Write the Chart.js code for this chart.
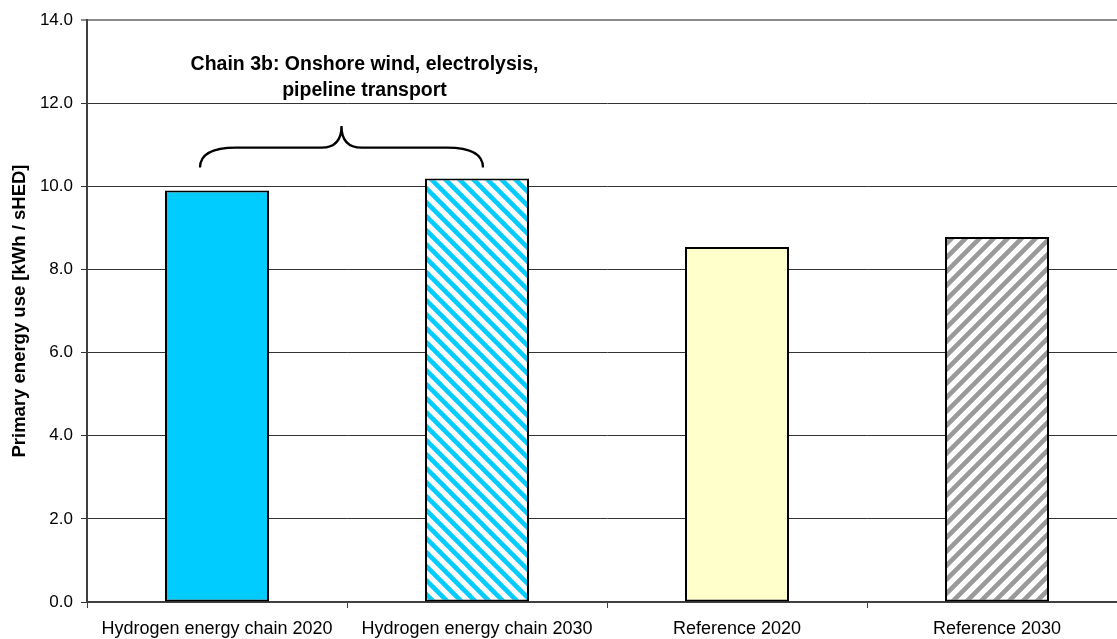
<!DOCTYPE html>
<html>
<head>
<meta charset="utf-8">
<script src="https://cdn.jsdelivr.net/npm/chart.js@4"></script>
<style>
  html, body { margin: 0; padding: 0; background: #fff; overflow: hidden; }
  #wrap { width: 1130px; height: 639px; }
</style>
</head>
<body>
<div id="wrap"><canvas id="energyChart" width="1130" height="639"></canvas></div>
<script>
// chart data
const categories = ["Hydrogen energy chain 2020", "Hydrogen energy chain 2030", "Reference 2020", "Reference 2030"];
const primaryEnergy = [9.90, 10.19, 8.54, 8.78];
const yTicks = [0, 2, 4, 6, 8, 10, 12, 14];
const bracketText = ["Chain 3b: Onshore wind, electrolysis,", "pipeline transport"];

const FONT = "'Liberation Sans', Arial, sans-serif";

// striped fills
function stripes(color, dir) {
    const s = 14;
    const c = document.createElement("canvas");
    c.width = s; c.height = s;
    const g = c.getContext("2d");
    g.fillStyle = "#fff";
    g.fillRect(0, 0, s, s);
    g.strokeStyle = color;
    g.lineWidth = 4.6;
    g.beginPath();
    for (let k = -1; k <= 2; k++) {
        if (dir === "down") {
            g.moveTo(k * s - s, -s);
            g.lineTo(k * s + 2 * s, 2 * s);
        } else {
            g.moveTo(k * s + s, -s);
            g.lineTo(k * s - 2 * s, 2 * s);
        }
    }
    g.stroke();
    return g.createPattern(c, "repeat");
}

const fills = ["#00CCFF", stripes("#00CCFF", "down"), "#FFFFCC", stripes("#9a9a9a", "up")];

// curly brace + caption above the first two bars
const bracePlugin = {
    id: "brace",
    afterDatasetsDraw(chart) {
        const ctx = chart.ctx;
        const x = chart.scales.x, y = chart.scales.y;
        const x0 = x.getPixelForValue(0), x1 = x.getPixelForValue(1);
        const left = x0 - 17, right = x1 + 6;
        const tip = left + (right - left) * 0.5;
        const yEnd = y.getPixelForValue(10.45);
        const yMid = y.getPixelForValue(10.93);
        const yTip = y.getPixelForValue(11.45);
        const r = 20;

        ctx.save();
        ctx.strokeStyle = "#000";
        ctx.lineWidth = 2.3;
        ctx.beginPath();
        ctx.moveTo(left, yEnd);
        ctx.quadraticCurveTo(left, yMid, left + r * 1.8, yMid);
        ctx.lineTo(tip - r, yMid);
        ctx.quadraticCurveTo(tip, yMid, tip, yTip);
        ctx.quadraticCurveTo(tip, yMid, tip + r, yMid);
        ctx.lineTo(right - r * 1.8, yMid);
        ctx.quadraticCurveTo(right, yMid, right, yEnd);
        ctx.stroke();

        ctx.fillStyle = "#000";
        ctx.font = "bold 19.5px " + FONT;
        ctx.textAlign = "center";
        ctx.textBaseline = "middle";
        const cx = tip + 23;
        ctx.fillText(bracketText[0], cx, y.getPixelForValue(12.93));
        ctx.fillText(bracketText[1], cx, y.getPixelForValue(12.31));
        ctx.restore();
    }
};

const ctx = document.getElementById("energyChart").getContext("2d");

new Chart(ctx, {
    type: "bar",
    data: {
        labels: categories,
        datasets: [{
            data: primaryEnergy,
            backgroundColor: fills,
            borderColor: "#000",
            borderWidth: 2,
            borderSkipped: false,
            barPercentage: 0.4,
            categoryPercentage: 1.0
        }]
    },
    options: {
        responsive: false,
        animation: false,
        layout: { padding: { top: 20, right: 3, left: 0, bottom: 0 } },
        plugins: {
            legend: { display: false },
            tooltip: { enabled: false }
        },
        scales: {
            x: {
                offset: true,
                grid: {
                    offset: true,
                    drawOnChartArea: false,
                    drawTicks: true,
                    tickLength: 6,
                    color: "#404040"
                },
                border: { color: "#404040", width: 2 },
                ticks: {
                    color: "#000",
                    font: { family: FONT, size: 18 },
                    padding: 10,
                    maxRotation: 0,
                    autoSkip: false
                },
                afterFit(scale) { scale.height = 37; }
            },
            y: {
                min: 0,
                max: 14,
                afterBuildTicks(scale) {
                    scale.ticks = yTicks.map(v => ({ value: v }));
                },
                grid: {
                    color: c => c.tick && c.tick.value === 14 ? "#8a8a8a" : "#333",
                    lineWidth: c => c.tick && c.tick.value === 14 ? 2 : 1,
                    tickLength: 6
                },
                border: { color: "#404040", width: 2 },
                ticks: {
                    color: "#000",
                    font: { family: FONT, size: 17 },
                    padding: 8,
                    callback: v => v.toFixed(1)
                },
                title: {
                    display: true,
                    text: "Primary energy use [kWh / sHED]",
                    color: "#000",
                    font: { family: FONT, size: 18.5, weight: "bold" },
                    padding: { top: 9, bottom: 0 }
                },
                afterFit(scale) { scale.width = 87; }
            }
        }
    },
    plugins: [bracePlugin]
});
</script>
</body>
</html>
